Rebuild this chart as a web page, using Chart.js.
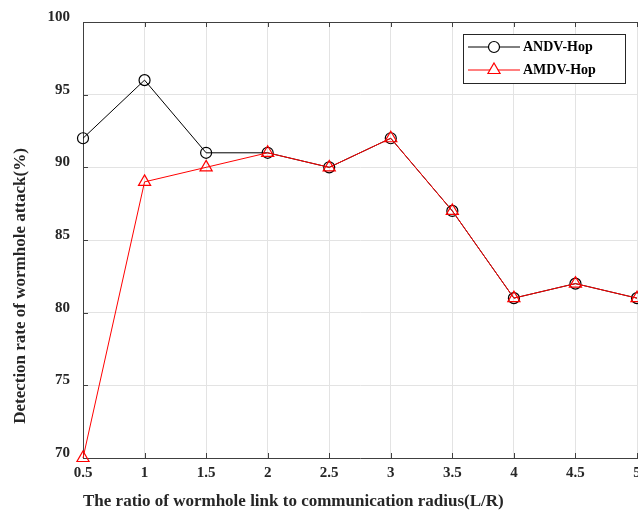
<!DOCTYPE html>
<html>
<head>
<meta charset="utf-8">
<script src="https://cdn.jsdelivr.net/npm/chart.js@4"></script>
<style>
  html, body { margin: 0; padding: 0; background: #fff; overflow: hidden; }
  #wrap { width: 660px; height: 513px; }
</style>
</head>
<body>
<div id="wrap"><canvas id="detectionChart" width="660" height="513"></canvas></div>
<script>
// detection rate (%) vs. wormhole link / radio range ratio
const ratios = [0.5, 1, 1.5, 2, 2.5, 3, 3.5, 4, 4.5, 5];
const andvHop = [92, 96, 91, 91, 90, 92, 87, 81, 82, 81];
const amdvHop = [70, 89, 90, 91, 90, 92, 87, 81, 82, 81];
const seriesNames = ['ANDV-Hop', 'AMDV-Hop'];
const xTitle = 'The ratio of wormhole link to communication radius(L/R)';
const yTitle = 'Detection rate of wormhole attack(%)';

const serif = '"Liberation Serif", "Times New Roman", serif';
const axisColor = '#404040';
const gridColor = '#e3e3e3';

function toPoints(ys) {
  return ratios.map((x, i) => ({ x: x, y: ys[i] }));
}

// top border, inward tick marks, y title and boxed legend
const framePlugin = {
  id: 'frame',
  beforeDatasetsDraw(chart) {
    const { ctx, chartArea, scales } = chart;
    ctx.save();
    ctx.strokeStyle = axisColor;
    ctx.lineWidth = 1;
    ctx.beginPath();
    ctx.moveTo(chartArea.left, chartArea.top + 0.5);
    ctx.lineTo(chartArea.right + 20, chartArea.top + 0.5);
    scales.x.ticks.forEach(t => {
      const px = Math.round(scales.x.getPixelForValue(t.value)) + 0.5;
      ctx.moveTo(px, chartArea.bottom);
      ctx.lineTo(px, chartArea.bottom - 5);
      ctx.moveTo(px, chartArea.top);
      ctx.lineTo(px, chartArea.top + 5);
    });
    scales.y.ticks.forEach(t => {
      const py = Math.round(scales.y.getPixelForValue(t.value)) + 0.5;
      ctx.moveTo(chartArea.left, py);
      ctx.lineTo(chartArea.left + 5, py);
    });
    ctx.stroke();
    ctx.restore();
  },
  afterDraw(chart) {
    const { ctx } = chart;
    ctx.save();
    // y axis title
    ctx.translate(21, 286);
    ctx.rotate(-Math.PI / 2);
    ctx.font = 'bold 17px ' + serif;
    ctx.fillStyle = '#262626';
    ctx.textAlign = 'center';
    ctx.textBaseline = 'middle';
    ctx.fillText(yTitle, 0, 0);
    ctx.restore();

    // legend box
    const box = { x: 463.5, y: 34.5, w: 162, h: 49 };
    ctx.save();
    ctx.fillStyle = '#fff';
    ctx.fillRect(box.x, box.y, box.w, box.h);
    ctx.strokeStyle = '#262626';
    ctx.lineWidth = 1;
    ctx.strokeRect(box.x, box.y, box.w, box.h);
    chart.data.datasets.forEach((ds, i) => {
      const y = 47 + i * 23;
      ctx.strokeStyle = ds.borderColor;
      ctx.lineWidth = 1;
      ctx.beginPath();
      ctx.moveTo(468, y);
      ctx.lineTo(520, y);
      ctx.stroke();
      ctx.beginPath();
      if (ds.pointStyle === 'triangle') {
        const r = ds.pointRadius;
        ctx.moveTo(494, y - r);
        ctx.lineTo(494 + r * 0.866, y + r * 0.5);
        ctx.lineTo(494 - r * 0.866, y + r * 0.5);
        ctx.closePath();
      } else {
        ctx.arc(494, y, ds.pointRadius, 0, Math.PI * 2);
      }
      ctx.fillStyle = '#fff';
      ctx.fill();
      ctx.lineWidth = 1.2;
      ctx.stroke();
      ctx.fillStyle = '#000';
      ctx.font = 'bold 14px ' + serif;
      ctx.textAlign = 'left';
      ctx.textBaseline = 'middle';
      ctx.fillText(ds.label, 523, y);
    });
    ctx.restore();
  }
};

new Chart(document.getElementById('detectionChart'), {
  type: 'line',
  data: {
    datasets: [
      {
        label: seriesNames[0],
        data: toPoints(andvHop),
        borderColor: '#000000',
        backgroundColor: 'rgba(0,0,0,0)',
        borderWidth: 1,
        pointStyle: 'circle',
        pointRadius: 5.5,
        pointBorderWidth: 1.2,
        clip: false,
        order: 1
      },
      {
        label: seriesNames[1],
        data: toPoints(amdvHop),
        borderColor: '#ff0000',
        backgroundColor: 'rgba(0,0,0,0)',
        borderWidth: 1,
        pointStyle: 'triangle',
        pointRadius: 7,
        pointBorderWidth: 1.2,
        clip: false,
        order: 0
      }
    ]
  },
  options: {
    responsive: false,
    animation: false,
    layout: { padding: { top: 20, right: 23, bottom: 0, left: 0 } },
    plugins: { legend: { display: false }, tooltip: { enabled: false } },
    elements: { line: { tension: 0 } },
    scales: {
      x: {
        type: 'linear',
        min: 0.5,
        max: 5,
        afterFit: s => { s.height = 55; },
        grid: { color: gridColor, drawTicks: false },
        border: { color: axisColor },
        ticks: {
          stepSize: 0.5,
          padding: 6,
          color: '#262626',
          font: { family: serif, size: 15, weight: 'bold' },
          callback: v => String(v)
        },
        title: {
          display: true,
          text: xTitle,
          align: 'start',
          color: '#262626',
          padding: { top: 0, bottom: 1 },
          font: { family: serif, size: 17, weight: 'bold' }
        }
      },
      y: {
        min: 70,
        max: 100,
        afterFit: s => { s.width = 83; },
        grid: { color: gridColor, drawTicks: false },
        border: { color: axisColor },
        ticks: {
          stepSize: 5,
          padding: 13,
          labelOffset: -5,
          color: '#262626',
          font: { family: serif, size: 15, weight: 'bold' }
        }
      }
    }
  },
  plugins: [framePlugin]
});
</script>
</body>
</html>
